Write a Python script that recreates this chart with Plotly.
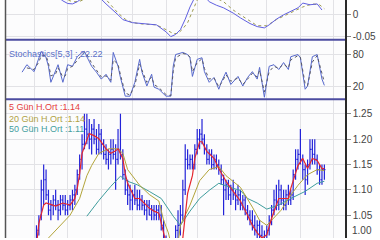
import plotly.graph_objects as go

# ---------------- data ----------------
price_days = list(range(6, 127))
price_open = [1.00,1.02,1.05,1.10,1.12,1.09,1.06,1.07,1.08,1.07,1.06,1.08,1.07,1.06,1.07,
              1.08,1.09,1.10,1.13,1.16,1.19,1.22,1.21,1.20,1.22,1.20,1.18,1.21,1.19,1.17,
              1.16,1.17,1.18,1.17,1.16,1.18,1.17,1.13,1.10,1.09,1.08,1.09,1.08,1.07,1.08,
              1.07,1.06,1.07,1.05,1.06,1.05,1.06,1.05,1.03,1.00,0.98,0.97,0.98,0.99,1.02,
              1.03,1.05,1.10,1.16,1.15,1.16,1.15,1.18,1.20,1.21,1.20,1.18,1.16,1.17,1.15,
              1.16,1.15,1.14,1.12,1.10,1.11,1.09,1.10,1.09,1.08,1.09,1.07,1.08,1.06,1.05,
              1.04,1.03,1.02,1.03,1.01,1.00,1.01,1.02,1.04,1.06,1.08,1.07,1.10,1.08,1.07,
              1.09,1.08,1.09,1.13,1.16,1.17,1.16,1.14,1.12,1.15,1.18,1.17,1.16,1.14,1.12,1.14]
price_high = [1.03,1.05,1.12,1.15,1.14,1.10,1.08,1.09,1.10,1.08,1.09,1.09,1.09,1.08,1.09,
              1.10,1.11,1.14,1.17,1.21,1.25,1.25,1.24,1.23,1.24,1.22,1.23,1.22,1.20,1.19,
              1.18,1.20,1.20,1.19,1.22,1.25,1.18,1.14,1.12,1.11,1.10,1.11,1.10,1.10,1.09,
              1.08,1.08,1.08,1.07,1.07,1.07,1.07,1.07,1.04,1.01,0.99,0.99,1.00,1.03,1.06,
              1.07,1.12,1.19,1.18,1.17,1.17,1.19,1.22,1.22,1.24,1.21,1.19,1.18,1.18,1.17,
              1.17,1.16,1.15,1.13,1.12,1.12,1.11,1.12,1.10,1.11,1.10,1.09,1.09,1.07,1.06,
              1.06,1.05,1.04,1.04,1.03,1.02,1.03,1.05,1.07,1.10,1.11,1.12,1.11,1.10,1.10,
              1.11,1.10,1.14,1.18,1.18,1.22,1.17,1.15,1.16,1.20,1.20,1.20,1.17,1.15,1.15,1.15]
price_low = [0.99,1.01,1.04,1.07,1.08,1.05,1.04,1.05,1.06,1.04,1.05,1.06,1.05,1.05,1.06,
             1.06,1.07,1.09,1.12,1.14,1.18,1.19,1.18,1.17,1.19,1.17,1.17,1.17,1.16,1.15,
             1.14,1.15,1.16,1.10,1.15,1.16,1.12,1.09,1.07,1.06,1.06,1.07,1.06,1.06,1.06,
             1.05,1.04,1.05,1.04,1.04,1.04,1.04,1.02,0.99,0.97,0.96,0.95,0.96,0.98,1.00,
             1.01,1.04,1.09,1.14,1.14,1.14,1.14,1.17,1.18,1.19,1.17,1.15,1.15,1.14,1.14,
             1.14,1.13,1.11,1.05,1.08,1.08,1.07,1.08,1.06,1.07,1.06,1.06,1.05,1.04,1.03,
             1.02,1.01,1.00,1.00,0.99,0.99,1.00,1.01,1.03,1.05,1.06,1.06,1.07,1.06,1.06,
             1.07,1.07,1.08,1.12,1.14,1.15,1.12,1.09,1.11,1.14,1.15,1.15,1.13,1.11,1.11,1.12]
price_close = [1.02,1.04,1.10,1.12,1.09,1.06,1.07,1.08,1.07,1.06,1.08,1.07,1.06,1.07,1.08,
               1.09,1.10,1.13,1.16,1.19,1.22,1.21,1.20,1.22,1.20,1.18,1.21,1.19,1.17,1.16,
               1.17,1.18,1.17,1.16,1.18,1.17,1.13,1.10,1.09,1.08,1.09,1.08,1.07,1.08,1.07,
               1.06,1.07,1.05,1.06,1.05,1.06,1.05,1.03,1.00,0.98,0.97,0.98,0.99,1.02,1.03,
               1.05,1.10,1.16,1.15,1.16,1.15,1.18,1.20,1.21,1.20,1.18,1.16,1.17,1.15,1.16,
               1.15,1.14,1.12,1.10,1.11,1.09,1.10,1.09,1.08,1.09,1.07,1.08,1.06,1.05,1.04,
               1.03,1.02,1.03,1.01,1.00,1.01,1.02,1.04,1.06,1.08,1.07,1.10,1.08,1.07,1.09,
               1.08,1.09,1.13,1.16,1.17,1.16,1.14,1.12,1.15,1.18,1.17,1.16,1.14,1.12,1.14,1.14]

ma5_days = [6,7,9,10,14,17,20,22,23,24,25,27,28,30,32,35,37,39,40,42,43,44,46,47,49,51,53,55,
            57,59,60,63,65,67,68,69,71,72,74,75,77,80,82,85,88,91,94,96,98,100,102,104,107,
            111,112,115,117,119,121,123,125,126]
ma5_vals = [0.99,1.034,1.070,1.074,1.068,1.074,1.070,1.083,1.103,1.132,1.172,1.201,1.211,1.207,
            1.201,1.181,1.172,1.177,1.181,1.162,1.132,1.113,1.093,1.083,1.083,1.074,1.064,1.058,
            1.054,1.015,0.995,0.985,0.99,1.005,1.054,1.093,1.128,1.162,1.195,1.195,1.176,1.162,
            1.142,1.117,1.097,1.078,1.050,1.030,1.015,1.005,1.011,1.044,1.083,1.083,1.103,1.148,
            1.162,1.142,1.162,1.158,1.142,1.142]

ma20_days = [11,16,20,24,27,29,32,36,40,42,44,49,53,57,59,61,62,65,66,70,74,78,82,85,91,96,99,
             102,105,108,111,115,119,123,126]
ma20_vals = [1.005,1.030,1.050,1.083,1.128,1.148,1.172,1.181,1.181,1.172,1.140,1.109,1.091,1.078,
             1.040,1.015,0.995,0.995,1.030,1.070,1.118,1.140,1.146,1.128,1.105,1.066,1.040,
             1.030,1.045,1.060,1.083,1.109,1.130,1.140,1.138]

ma50_days = [27,32,37,41,44,48,53,58,63,66,70,74,78,82,88,91,94,98,102,107,112,118,123,126]
ma50_vals = [1.048,1.079,1.107,1.127,1.117,1.110,1.097,1.083,1.048,1.030,1.058,1.083,1.099,1.113,
             1.103,1.099,1.083,1.074,1.062,1.070,1.083,1.097,1.113,1.117]

stoch_days = [0,2,5,7,8,10,11,12,14,15,17,18,19,21,23,25,26,27,29,31,33,35,37,38,40,41,43,45,
              47,49,50,52,54,55,57,60,62,63,64,67,69,70,71,73,75,76,78,80,82,83,85,87,90,92,
              94,96,98,99,101,103,105,107,109,111,112,115,116,118,119,121,123,125,126]
stoch_k = [47,61,48,76,86,74,58,28,52,61,28,43,61,58,76,84,86,76,58,47,34,43,28,84,58,37,2,2,
           28,71,47,21,43,19,15,2,2,58,80,84,80,74,39,71,74,48,28,37,15,28,47,24,39,21,
           37,48,34,56,0,58,61,52,65,52,76,80,74,15,21,76,80,34,22.22]
stoch_d = [None,55,52,66,78,78,64,40,44,55,38,40,54,58,70,80,84,80,64,50,38,40,32,70,62,42,8,
           4,22,62,50,28,38,24,18,5,3,48,74,82,80,75,48,65,72,54,34,36,20,26,42,30,36,24,
           34,45,38,50,10,48,58,54,62,55,70,78,75,25,22,66,78,42,28]

macd_days = [14,17,19,21,23,26,30,33,35,38,40,42,46,50,56,60,62,64,66,68,69,70,72,75,78,81,84,
             88,91,95,98,101,103,106,109,112,115,117,120,123,125]
macd_vals = [0.045,0.032,0.026,0.025,0.030,0.042,0.048,0.036,0.025,0.011,0.0,-0.011,-0.018,
             -0.020,-0.023,-0.039,-0.050,-0.045,-0.034,-0.010,0.005,0.018,0.040,0.050,0.030,
             0.022,0.016,0.004,-0.007,-0.020,-0.027,-0.030,-0.023,-0.010,0.0,0.008,0.016,
             0.027,0.023,0.025,0.011]
signal_days = [17,20,22,24,27,32,35,37,40,43,46,50,56,60,63,65,67,69,71,73,77,81,84,88,91,94,
               98,102,106,109,112,117,121,124,126]
signal_vals = [0.040,0.032,0.030,0.031,0.038,0.045,0.035,0.022,0.004,-0.010,-0.018,-0.021,
               -0.023,-0.034,-0.043,-0.043,-0.032,-0.018,0.007,0.034,0.045,0.038,0.030,0.011,
               0.0,-0.011,-0.025,-0.025,-0.011,-0.003,0.0045,0.018,0.025,0.023,0.014]

grid_days = [5, 19, 33, 46, 60, 73, 87, 102, 116, 130]
price_ticks = [1.05, 1.10, 1.15, 1.20, 1.25]
price_ticktext = ["1.05", "1.10", "1.15", "1.20", "1.25"]
stoch_ticks = [20, 80]
macd_ticks = [-0.05, 0]
macd_ticktext = ["-0.05", "0"]
legend_texts = ["5 Gün H.Ort :1.14", "20 Gün H.Ort :1.14", "50 Gün H.Ort :1.11"]
stoch_label = "Stochastics[5,3] : 22.22"
bottom_label = "1.00"

# ---------------- styling ----------------
W, H = 380, 240
X0, X1 = 6 / W, 345 / W
FONT = "Liberation Sans, Arial, sans-serif"
BLUE_BAR = "#2323d8"
RED = "#e4262e"
OLIVE = "#b2a43a"
TEAL = "#3f9d9d"
GRID = "#e2e2e6"
XRANGE = [-6.7, 134.6]

fig = go.Figure()

fig.add_trace(go.Ohlc(x=price_days, open=price_open, high=price_high, low=price_low,
                      close=price_close, xaxis="x", yaxis="y", tickwidth=0.45,
                      increasing=dict(line=dict(color=BLUE_BAR, width=1.2)),
                      decreasing=dict(line=dict(color=BLUE_BAR, width=1.2)),
                      hoverinfo="skip"))
fig.add_trace(go.Scatter(x=ma50_days, y=ma50_vals, mode="lines", xaxis="x", yaxis="y",
                         line=dict(color=TEAL, width=1), hoverinfo="skip"))
fig.add_trace(go.Scatter(x=ma20_days, y=ma20_vals, mode="lines", xaxis="x", yaxis="y",
                         line=dict(color=OLIVE, width=1), hoverinfo="skip"))
fig.add_trace(go.Scatter(x=ma5_days, y=ma5_vals, mode="lines", xaxis="x", yaxis="y",
                         line=dict(color=RED, width=1.2), hoverinfo="skip"))

fig.add_trace(go.Scatter(x=stoch_days, y=stoch_k, mode="lines", xaxis="x2", yaxis="y2",
                         line=dict(color="#5668cc", width=1), hoverinfo="skip"))
fig.add_trace(go.Scatter(x=stoch_days, y=stoch_d, mode="lines", xaxis="x2", yaxis="y2",
                         line=dict(color="#5a5a66", width=1, dash="dot"), hoverinfo="skip"))

fig.add_trace(go.Scatter(x=signal_days, y=signal_vals, mode="lines", xaxis="x3", yaxis="y3",
                         line=dict(color="#9c9a50", width=1, dash="dot"), hoverinfo="skip"))
fig.add_trace(go.Scatter(x=macd_days, y=macd_vals, mode="lines", xaxis="x3", yaxis="y3",
                         line=dict(color="#5f5fe0", width=1), hoverinfo="skip"))

xcommon = dict(range=XRANGE, domain=[X0, X1], showticklabels=False, tickvals=grid_days,
               showgrid=True, gridcolor=GRID, gridwidth=1, zeroline=False, showline=False,
               ticks="", fixedrange=True)
ycommon = dict(side="right", showline=True, linecolor="#2a2a2a", linewidth=1.5,
               ticks="outside", ticklen=4, tickcolor="#888", tickwidth=1,
               showgrid=True, gridcolor=GRID, gridwidth=1, zeroline=False,
               tickfont=dict(family=FONT, size=10, color="#444"), fixedrange=True)

fig.update_layout(
    width=W, height=H, margin=dict(l=0, r=0, t=0, b=0),
    paper_bgcolor="white", plot_bgcolor="#fcfcfd", showlegend=False,
    xaxis=dict(anchor="y", rangeslider=dict(visible=False), **xcommon),
    xaxis2=dict(anchor="y2", **xcommon),
    xaxis3=dict(anchor="y3", **xcommon),
    yaxis=dict(anchor="x", domain=[0, 140 / H], range=[1.005, 1.279],
               tickvals=price_ticks, ticktext=price_ticktext, **ycommon),
    yaxis2=dict(anchor="x2", domain=[140 / H, 200 / H], range=[-3.6, 107.9],
                tickvals=stoch_ticks, **ycommon),
    yaxis3=dict(anchor="x3", domain=[200 / H, 1], range=[-0.057, 0.034],
                tickvals=macd_ticks, ticktext=macd_ticktext, **ycommon),
)

# panel separators and left border
for yp in (200 / H, 140 / H):
    fig.add_shape(type="line", xref="paper", yref="paper", x0=X0, x1=X1, y0=yp, y1=yp,
                  line=dict(color="#4c4ca0", width=2))
fig.add_shape(type="line", xref="paper", yref="paper", x0=5.5 / W, x1=5.5 / W, y0=0, y1=1,
              line=dict(color="#555", width=1.5))

# texts
fig.add_annotation(x=7 / W, y=(H - 54) / H, xref="paper", yref="paper", text=stoch_label,
                   showarrow=False, xanchor="left", yanchor="middle",
                   font=dict(family=FONT, size=9, color="#5a6ec8"))
leg_colors = ["#e43c3c", "#b0a246", "#45a0a0"]
leg_y = [108, 119.5, 130.5]
for t, c, yy in zip(legend_texts, leg_colors, leg_y):
    fig.add_annotation(x=7 / W, y=(H - yy) / H, xref="paper", yref="paper", text=t,
                       showarrow=False, xanchor="left", yanchor="middle",
                       font=dict(family=FONT, size=9, color=c))
# bottom tick label (its level sits at the lower frame edge)
fig.add_annotation(x=X1, y=0, xref="paper", yref="paper", text=bottom_label, showarrow=False,
                   xanchor="left", yanchor="bottom", xshift=5, yshift=0,
                   font=dict(family=FONT, size=10, color="#444"))

fig.write_html("out.html")
